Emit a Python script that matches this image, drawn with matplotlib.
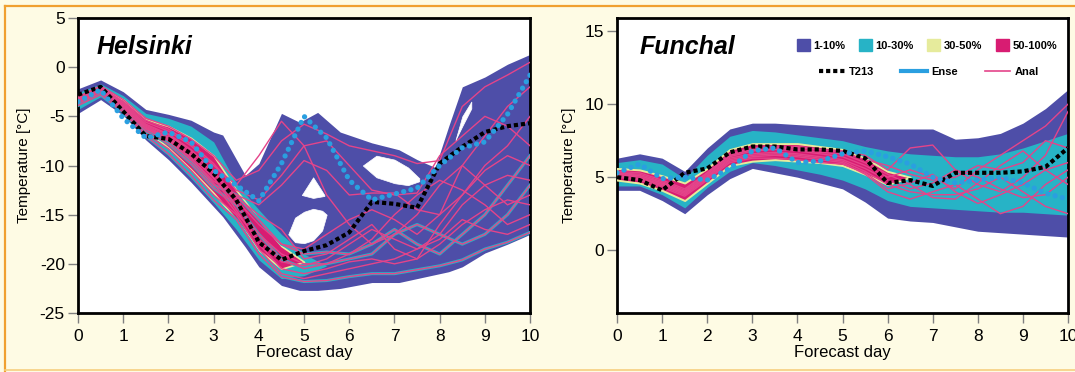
import numpy as np
import matplotlib
matplotlib.use('Agg')
import matplotlib.pyplot as plt
from matplotlib.patches import Patch
from matplotlib.lines import Line2D

plt.rcParams['font.family'] = ['Liberation Sans Narrow', 'Liberation Sans', 'DejaVu Sans']
plt.rcParams['axes.unicode_minus'] = False

nan = np.nan

# forecast days, half-day steps
days = [0, 0.5, 1, 1.5, 2, 2.5, 3, 3.5, 4, 4.5, 5, 5.5, 6, 6.5, 7, 7.5, 8, 8.5, 9, 9.5, 10]

# ---------------- Helsinki ----------------
H_env_day = [0, 0.5, 1, 1.5, 2, 2.5, 3, 3.2, 3.7, 4.0, 4.5, 4.9, 5.3, 5.8, 6.5, 7.1, 7.5, 7.9, 8.2, 8.5, 9.0, 9.5, 10]
H_env_hi = [-2.2, -1.3, -2.5, -4.3, -4.8, -5.4, -6.6, -6.9, -11.0, -9.8, -4.7, -5.6, -4.6, -6.6, -7.7, -8.4, -9.4, -10.2, -6.0, -2.0, -1.0, 0.3, 1.3]
H_env_lo = [-4.7, -3.3, -4.9, -7.4, -9.4, -11.7, -14.2, -15.2, -18.3, -20.3, -22.2, -22.7, -22.7, -22.5, -21.9, -21.9, -21.5, -21.1, -20.8, -20.3, -18.9, -18.0, -17.0]

# white gaps inside the ensemble envelope
H_gap1_day = [4.95, 5.2, 5.45]
H_gap1_hi = [-13.0, -11.2, -13.0]
H_gap1_lo = [-13.0, -13.3, -13.1]
H_gap2_day = [4.65, 4.8, 5.0, 5.2, 5.4, 5.5]
H_gap2_hi = [-17.0, -15.3, -14.7, -14.4, -14.6, -15.0]
H_gap2_lo = [-17.0, -17.8, -17.9, -17.6, -16.6, -15.0]
H_gap3_day = [6.3, 6.6, 7.0, 7.3, 7.55]
H_gap3_hi = [-10.0, -9.0, -9.4, -10.2, -11.3]
H_gap3_lo = [-10.0, -11.2, -11.8, -12.0, -11.6]
H_gap4_day = [8.35, 8.5, 8.7]
H_gap4_hi = [-7.4, -5.0, -3.5]
H_gap4_lo = [-7.4, -6.0, -4.2]

H_teal_hi = [-2.6, -1.7, -2.9, -4.7, -5.2, -6.0, -7.6, -11.8, -14.5, -17.0, -19.0, -20.2] + [nan] * 9
H_teal_lo = [-4.3, -3.0, -4.6, -7.0, -9.0, -11.3, -13.8, -16.5, -19.6, -21.5, -21.2, -20.2] + [nan] * 9
H_core_hi = [-3.0, -2.1, -3.3, -5.3, -6.0, -7.2, -9.0, -12.5, -15.5, -18.2, -19.8] + [nan] * 10
H_core_lo = [-3.8, -2.6, -4.1, -6.4, -8.2, -10.4, -12.8, -15.5, -18.6, -20.5, -19.8] + [nan] * 10

H_T213 = [-2.8, -2.0, -4.5, -7.0, -7.3, -8.8, -10.8, -13.5, -17.8, -19.6, -18.7, -18.1, -16.8, -13.7, -13.9, -14.3, -9.8, -8.1, -6.6, -6.0, -5.7]
H_ense = [-3.5, -2.3, -5.2, -7.2, -6.6, -7.6, -10.5, -12.0, -13.6, -9.8, -5.0, -7.2, -11.5, -13.5, -12.9, -12.3, -10.0, -8.2, -7.6, -4.8, -0.8]

H_members = [
    [-3.2, -2.1, -3.6, -5.6, -6.5, -8.0, -10.0, -12.0, -9.0, -5.5, -8.0, -13.0, -16.0, -18.0, -17.0, -15.0, -12.0, -10.0, -12.0, -14.0, -13.0],
    [-3.0, -1.9, -3.3, -5.2, -6.0, -7.3, -9.0, -11.5, -10.5, -7.5, -5.8, -6.8, -8.0, -8.5, -9.0, -9.8, -9.5, -4.0, -2.0, -0.8, 0.5],
    [-3.5, -2.4, -4.0, -6.2, -7.4, -9.3, -11.6, -13.0, -14.0, -12.0, -9.5, -10.5, -13.0, -12.8, -12.8, -14.5, -15.0, -13.0, -10.0, -8.0, -5.0],
    [-3.6, -2.5, -4.2, -6.5, -7.8, -9.8, -12.3, -14.0, -17.0, -19.5, -20.5, -20.0, -19.5, -19.0, -17.0, -16.0, -17.0, -18.0, -17.0, -15.0, -12.0],
    [-3.7, -2.6, -4.4, -6.8, -8.3, -10.5, -13.0, -15.0, -18.5, -21.0, -21.5, -21.0, -20.5, -20.0, -19.5, -18.5, -17.0, -14.0, -12.0, -11.0, -11.5],
    [-3.9, -2.8, -4.6, -7.0, -8.8, -11.0, -13.5, -15.5, -19.0, -21.3, -21.8, -21.7, -21.3, -21.0, -21.0, -20.6, -20.2, -19.6, -18.5, -17.8, -16.8],
    [-3.3, -2.2, -3.8, -5.9, -6.9, -8.6, -10.8, -13.5, -16.0, -18.0, -18.5, -17.0, -15.5, -14.5, -15.5, -17.0, -15.0, -10.0, -7.0, -4.0, -2.0],
    [-3.4, -2.3, -4.0, -6.1, -7.2, -9.0, -11.3, -14.0, -17.0, -19.0, -20.0, -20.0, -19.0, -17.5, -15.0, -13.0, -11.5, -12.5, -14.0, -16.0, -15.0],
    [-3.5, -2.4, -4.1, -6.3, -7.5, -9.5, -12.0, -13.0, -15.5, -18.0, -19.0, -18.8, -19.0, -18.0, -16.5, -18.0, -19.0, -17.0, -15.0, -12.0, -9.0],
    [-3.1, -2.0, -3.5, -5.4, -6.3, -7.8, -9.8, -12.5, -13.5, -11.0, -8.0, -7.5, -10.0, -12.5, -13.0, -12.8, -9.0, -7.0, -5.0, -6.0, -8.0],
    [-3.3, -2.2, -3.9, -6.0, -7.1, -8.9, -11.2, -14.5, -18.0, -20.5, -21.0, -20.5, -19.8, -19.5, -20.0, -19.5, -18.0, -16.0, -14.5, -13.5, -14.0],
    [-3.4, -2.3, -4.0, -6.2, -7.3, -9.2, -11.8, -14.8, -17.5, -19.8, -20.2, -19.5, -18.0, -16.5, -17.5, -18.5, -17.5, -15.5, -16.5, -17.0, -16.0],
    [-3.2, -2.1, -3.7, -5.8, -6.8, -8.4, -10.6, -13.2, -15.0, -16.5, -19.5, -19.0, -17.5, -16.0, -18.5, -19.5, -16.0, -13.0, -10.5, -9.0, -10.0],
]
H_teal_members = [3, 5, 8]

# ---------------- Funchal ----------------
F_env_hi = [6.3, 6.6, 6.3, 5.4, 7.0, 8.3, 8.7, 8.7, 8.6, 8.5, 8.4, 8.3, 8.3, 8.3, 8.3, 7.6, 7.7, 8.0, 8.7, 9.7, 11.0]
F_env_lo = [4.1, 4.1, 3.4, 2.5, 3.8, 4.9, 5.6, 5.3, 5.0, 4.6, 4.2, 3.3, 2.2, 2.0, 1.9, 1.6, 1.3, 1.2, 1.1, 1.0, 0.9]
F_teal_hi = [6.0, 6.2, 5.9, 4.9, 6.5, 7.8, 8.2, 8.1, 7.9, 7.7, 7.5, 7.1, 6.8, 6.6, 6.5, 6.4, 6.4, 6.6, 7.0, 7.5, 8.0]
F_teal_lo = [4.4, 4.4, 3.8, 2.9, 4.3, 5.4, 6.0, 5.8, 5.5, 5.2, 4.8, 4.2, 3.4, 3.0, 2.9, 2.8, 2.7, 2.6, 2.6, 2.5, 2.4]
F_core_hi = [5.6, 5.5, 5.1, 4.6, 5.6, 6.9, 7.3, 7.3, 7.3, 7.1, 6.9, 6.3, 5.4, 5.0] + [nan] * 7
F_core_lo = [4.8, 4.6, 4.1, 3.4, 4.6, 5.8, 6.1, 6.2, 6.1, 6.0, 5.8, 5.2, 4.5, 5.0] + [nan] * 7

F_T213 = [5.0, 4.8, 4.1, 5.3, 5.6, 6.7, 7.1, 7.1, 6.9, 6.9, 6.8, 6.3, 4.6, 4.8, 4.4, 5.3, 5.3, 5.3, 5.4, 5.7, 7.0]
F_ense = [5.3, 5.9, 4.9, 5.0, 4.8, 5.6, 6.8, 7.0, 6.0, 6.1, 6.6, 6.8, 6.4, 5.9, 5.0, 4.6, 4.8, 5.0, 4.6, 3.9, 3.5]

F_members = [
    [5.3, 5.2, 4.7, 4.1, 5.3, 6.6, 7.0, 7.1, 7.0, 6.9, 6.8, 6.5, 5.5, 7.0, 7.2, 5.5, 4.5, 4.0, 5.0, 6.5, 9.5],
    [5.0, 4.9, 4.4, 3.8, 4.9, 6.1, 6.4, 6.5, 6.4, 6.2, 6.0, 5.2, 4.0, 3.5, 4.0, 4.5, 3.5, 2.5, 3.0, 4.5, 5.5],
    [5.2, 5.1, 4.6, 4.0, 5.1, 6.4, 6.8, 6.9, 6.8, 6.6, 6.4, 5.8, 5.0, 5.5, 5.0, 4.2, 5.5, 6.5, 7.5, 8.5, 10.0],
    [5.1, 4.9, 4.5, 3.9, 5.0, 6.2, 6.5, 6.6, 6.5, 6.3, 6.1, 5.4, 4.5, 4.0, 3.8, 3.8, 4.2, 5.0, 4.0, 3.0, 2.5],
    [5.4, 5.3, 4.8, 4.2, 5.3, 6.5, 6.9, 7.0, 7.1, 6.9, 6.7, 6.2, 5.8, 5.2, 4.8, 5.0, 5.8, 5.5, 6.0, 7.5, 7.0],
    [5.0, 4.8, 4.3, 3.7, 4.8, 6.0, 6.3, 6.3, 6.2, 6.0, 5.9, 5.3, 4.2, 4.6, 5.2, 4.0, 3.2, 3.8, 4.5, 5.5, 4.5],
    [5.2, 5.0, 4.5, 3.9, 5.0, 6.3, 6.6, 6.7, 6.6, 6.4, 6.2, 5.6, 4.8, 4.2, 4.6, 5.5, 5.0, 4.2, 3.6, 3.8, 5.0],
    [5.3, 5.1, 4.6, 4.0, 5.2, 6.5, 6.9, 7.0, 6.9, 6.7, 6.6, 6.0, 5.2, 4.5, 3.6, 3.5, 4.6, 5.8, 6.8, 5.5, 6.0],
]

c_1_10 = '#4e4ea8'
c_10_30 = '#27b3c6'
c_30_50 = '#e6eb9c'
c_50_100 = '#d81c72'
c_anal = '#e4448a'
c_ense = '#2a9fe0'
bg = '#fefbe4'

fig = plt.figure(figsize=(10.75, 3.72), dpi=100, facecolor=bg)
axH = fig.add_axes([0.0726, 0.1586, 0.4205, 0.793])
axF = fig.add_axes([0.574, 0.1586, 0.4195, 0.793])

# page frame
fig.add_artist(Line2D([0.005, 1.0], [0.984, 0.984], transform=fig.transFigure, color='#f0a030', lw=1.6))
fig.add_artist(Line2D([0.0047, 0.0047], [0.004, 0.984], transform=fig.transFigure, color='#f0a030', lw=1.6))
fig.add_artist(Line2D([0.005, 1.0], [0.005, 0.005], transform=fig.transFigure, color='#f6cf80', lw=1.2))


def style(ax):
    ax.set_facecolor('white')
    for s in ax.spines.values():
        s.set_linewidth(2.0)
        s.set_color('black')
    ax.tick_params(direction='out', length=7.5, width=1, color='#808080', labelsize=12.5, pad=2)
    ax.tick_params(axis='x', pad=4)
    ax.set_xlim(0, 10)
    ax.set_xticks(range(0, 11))
    ax.set_xlabel('Forecast day', fontsize=12, labelpad=1)
    ax.set_ylabel('Temperature [°C]', fontsize=11, labelpad=6)


# Helsinki
ax = axH
style(ax)
ax.fill_between(H_env_day, H_env_lo, H_env_hi, color=c_1_10, lw=0, zorder=1)
ax.fill_between(days, H_teal_lo, H_teal_hi, color=c_10_30, lw=0, zorder=2)
ax.fill_between(days, H_core_lo, H_core_hi, facecolor=c_50_100, edgecolor=c_30_50, lw=1.2, zorder=3)
for i in H_teal_members:
    ax.plot(days, H_members[i], color=c_10_30, lw=2.2, zorder=3.5)
for m in H_members:
    ax.plot(days, m, color=c_anal, lw=1.0, zorder=4)
for gd, glo, ghi in [(H_gap1_day, H_gap1_lo, H_gap1_hi), (H_gap2_day, H_gap2_lo, H_gap2_hi),
                     (H_gap3_day, H_gap3_lo, H_gap3_hi), (H_gap4_day, H_gap4_lo, H_gap4_hi)]:
    ax.fill_between(gd, glo, ghi, color='white', lw=0.5, zorder=5)
ax.plot(days, H_T213, color='black', lw=3, ls=(0, (1, 0.7)), zorder=6)
ax.plot(days, H_ense, color=c_ense, lw=3.8, ls=(0, (0.01, 1.4)), dash_capstyle='round', zorder=7)
ax.set_ylim(-25, 5)
ax.set_yticks(range(-25, 6, 5))
ax.text(0.042, 0.878, 'Helsinki', transform=ax.transAxes, fontsize=18, fontweight='bold',
        fontstyle='italic', family=['Liberation Sans', 'DejaVu Sans'], zorder=8)

# Funchal
ax = axF
style(ax)
ax.fill_between(days, F_env_lo, F_env_hi, color=c_1_10, lw=0, zorder=1)
ax.fill_between(days, F_teal_lo, F_teal_hi, color=c_10_30, lw=0, zorder=2)
ax.fill_between(days, F_core_lo, F_core_hi, facecolor=c_50_100, edgecolor=c_30_50, lw=1.4, zorder=3)
for m in F_members:
    ax.plot(days, m, color=c_anal, lw=1.0, zorder=4)
ax.plot(days, F_T213, color='black', lw=3, ls=(0, (1, 0.7)), zorder=6)
ax.plot(days, F_ense, color=c_ense, lw=3.8, ls=(0, (0.01, 1.4)), dash_capstyle='round', zorder=7)
ax.set_ylim(-4.3, 15.9)
ax.set_yticks([0, 5, 10, 15])
ax.text(0.051, 0.878, 'Funchal', transform=ax.transAxes, fontsize=18, fontweight='bold',
        fontstyle='italic', family=['Liberation Sans', 'DejaVu Sans'], zorder=8)

patches = [Patch(color=c_1_10, label='1-10%'), Patch(color=c_10_30, label='10-30%'),
           Patch(color=c_30_50, label='30-50%'), Patch(color=c_50_100, label='50-100%')]
handles = [Line2D([], [], color='black', lw=3, ls=(0, (1, 0.7)), label='T213'),
           Line2D([], [], color=c_ense, lw=3, label='Ense'),
           Line2D([], [], color=c_anal, lw=1.2, label='Anal')]
leg_font = {'weight': 'bold', 'size': 8}
leg1 = ax.legend(handles=patches, ncol=4, loc='center right', bbox_to_anchor=(0.985, 0.908),
                 frameon=False, prop=leg_font, handlelength=1.2, handleheight=1.3,
                 handletextpad=0.3, columnspacing=1.2, borderaxespad=0)
leg2 = ax.legend(handles=handles, ncol=3, loc='center right', bbox_to_anchor=(0.945, 0.817),
                 frameon=False, prop=leg_font, handlelength=2.3, handletextpad=0.4,
                 columnspacing=2.4, borderaxespad=0)
ax.add_artist(leg1)
leg1.set_zorder(9)
leg2.set_zorder(9)

fig.savefig('out.png', dpi=100, facecolor=fig.get_facecolor())
